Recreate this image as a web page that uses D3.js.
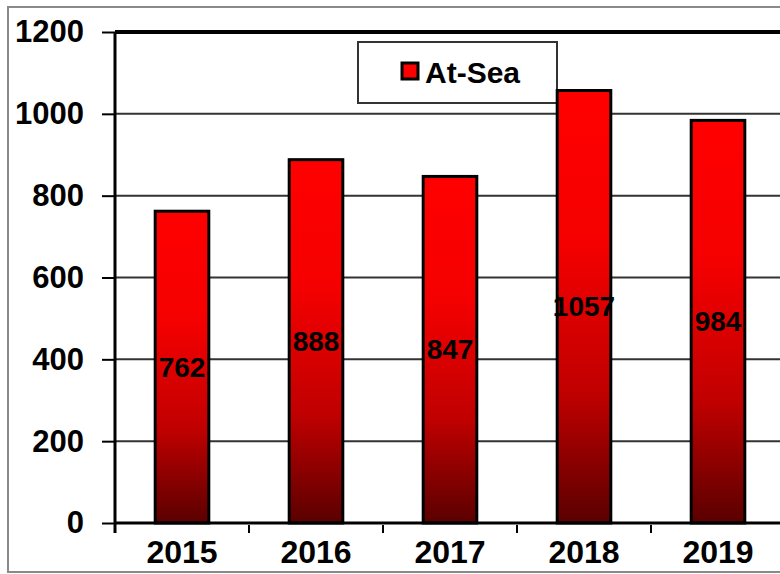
<!DOCTYPE html>
<html><head><meta charset="utf-8">
<script src="https://cdn.jsdelivr.net/npm/d3@7"></script>
<style>
html,body{margin:0;padding:0;background:#fff;}
svg{display:block;font-family:"Liberation Sans",Arial,sans-serif;}
</style></head>
<body>
<svg id="c" width="780" height="574"></svg>
<script>
const categories = ["2015","2016","2017","2018","2019"];
const values = [762, 888, 847, 1057, 984];
const seriesName = "At-Sea";
const yTicks = [0, 200, 400, 600, 800, 1000, 1200];

(function () {
const svg = d3.select("#c");
const pLeft = 115, pRight = 785, pTop = 32, pBottom = 523;

// outer frame
svg.append("rect").attr("x", 8).attr("y", 7).attr("width", 800).attr("height", 565)
  .attr("fill", "none").attr("stroke", "#8a8a8a").attr("stroke-width", 2);

const x = d3.scaleBand().domain(categories).range([pLeft, pRight]).paddingInner(0.6).paddingOuter(0.3);
const xb = d3.scaleBand().domain(categories).range([pLeft, pRight]);
const y = d3.scaleLinear().domain([0, 1200]).range([pBottom, pTop]);

const defs = svg.append("defs");
const g = defs.append("linearGradient").attr("id", "barg").attr("x1", 0).attr("y1", 0).attr("x2", 0).attr("y2", 1);
g.append("stop").attr("offset", 0).attr("stop-color", "#ff0000");
g.append("stop").attr("offset", 0.35).attr("stop-color", "#f50000");
g.append("stop").attr("offset", 0.7).attr("stop-color", "#c00000");
g.append("stop").attr("offset", 1).attr("stop-color", "#5a0000");

// gridlines
svg.append("g").selectAll("line").data(yTicks.filter(d => d > 0 && d < 1200)).join("line")
  .attr("x1", pLeft).attr("x2", 790).attr("y1", d => y(d)).attr("y2", d => y(d))
  .attr("stroke", "#333").attr("stroke-width", 2);

// y axis
const ya = d3.axisLeft(y).tickValues(yTicks).tickSize(13).tickPadding(18).tickFormat(d3.format("d"));
const yg = svg.append("g").attr("transform", `translate(${pLeft},0)`).call(ya);
yg.select(".domain").remove();
yg.selectAll(".tick line").attr("stroke", "#000").attr("stroke-width", 2);
yg.selectAll(".tick text").attr("font-size", 31).attr("font-weight", "bold").attr("fill", "#000")
  .attr("font-family", "Liberation Sans, Arial, sans-serif");

// legend box
svg.append("rect").attr("x", 358).attr("y", 42).attr("width", 199).attr("height", 61)
  .attr("fill", "#fff").attr("stroke", "#333").attr("stroke-width", 2);
svg.append("rect").attr("x", 402).attr("y", 63).attr("width", 16).attr("height", 16)
  .attr("fill", "#ff0000").attr("stroke", "#000").attr("stroke-width", 3);
svg.append("text").attr("x", 425).attr("y", 83).attr("font-size", 30).attr("font-weight", "bold")
  .attr("fill", "#000").text(seriesName);

// bars
svg.append("g").selectAll("rect").data(values).join("rect")
  .attr("x", (d, i) => x(categories[i]))
  .attr("y", d => y(d))
  .attr("width", x.bandwidth())
  .attr("height", d => y(0) - y(d))
  .attr("fill", "url(#barg)").attr("stroke", "#000").attr("stroke-width", 3);

// top border and left axis
svg.append("line").attr("x1", pLeft).attr("x2", 790).attr("y1", pTop).attr("y2", pTop)
  .attr("stroke", "#000").attr("stroke-width", 4);
svg.append("line").attr("x1", pLeft).attr("x2", pLeft).attr("y1", pTop).attr("y2", pBottom + 10)
  .attr("stroke", "#000").attr("stroke-width", 3);
svg.append("line").attr("x1", pLeft).attr("x2", 790).attr("y1", pBottom).attr("y2", pBottom)
  .attr("stroke", "#000").attr("stroke-width", 3);

// x axis
const xa = d3.axisBottom(xb).tickSize(0).tickPadding(0);
const xg = svg.append("g").attr("transform", `translate(0,${pBottom})`).call(xa);
xg.select(".domain").remove();
xg.selectAll(".tick text").attr("font-size", 32).attr("font-weight", "bold").attr("fill", "#000")
  .attr("dy", null).attr("y", 40).attr("font-family", "Liberation Sans, Arial, sans-serif");
svg.append("g").selectAll("line").data(categories.slice(1)).join("line")
  .attr("x1", d => xb(d)).attr("x2", d => xb(d)).attr("y1", pBottom + 2).attr("y2", pBottom + 10)
  .attr("stroke", "#000").attr("stroke-width", 2);

// data labels
svg.append("g").selectAll("text").data(values).join("text")
  .attr("x", (d, i) => x(categories[i]) + x.bandwidth() / 2)
  .attr("y", d => (y(d) + y(0)) / 2)
  .attr("text-anchor", "middle").attr("dominant-baseline", "central")
  .attr("font-size", 28).attr("font-weight", "bold").attr("fill", "#000")
  .text(d => d);
})();
</script>
</body></html>
